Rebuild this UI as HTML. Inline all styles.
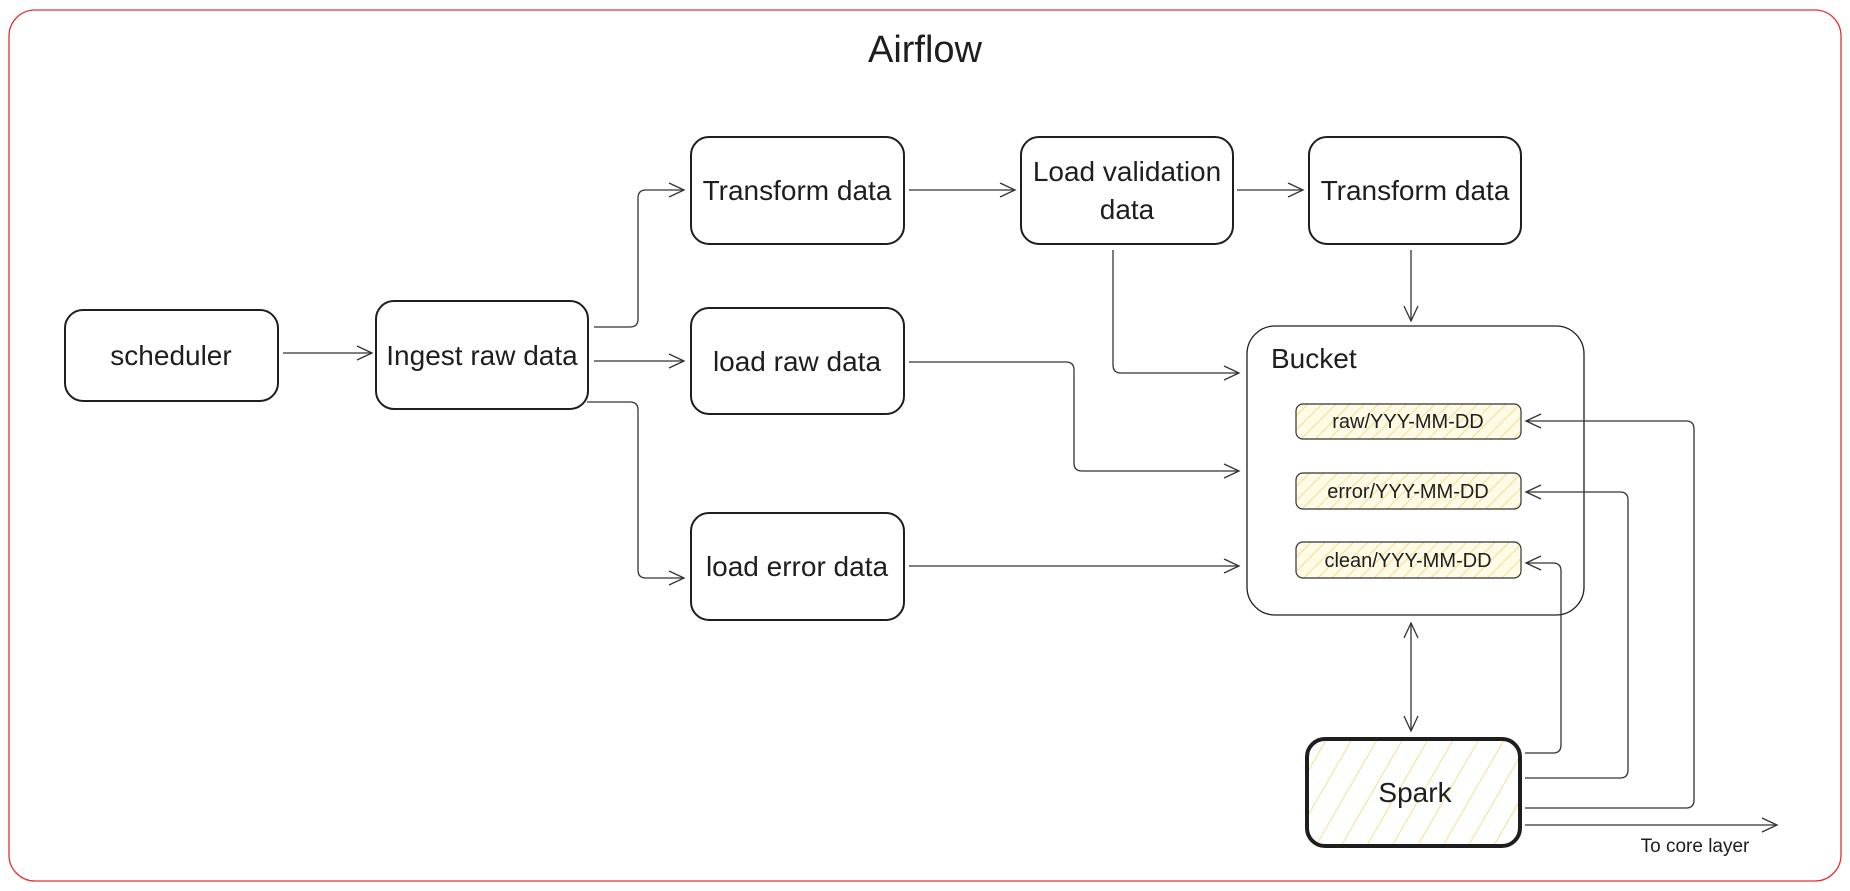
<!DOCTYPE html>
<html><head><meta charset="utf-8"><style>
body{margin:0;background:#fff;}
svg{display:block;font-family:"Liberation Sans",sans-serif;}
</style></head><body>
<svg width="1850" height="891" viewBox="0 0 1850 891" xmlns="http://www.w3.org/2000/svg">
<defs>
<pattern id="h" width="10" height="10" patternUnits="userSpaceOnUse" patternTransform="rotate(45)">
<rect width="10" height="10" fill="#fffbe6"/><line x1="0" y1="0" x2="0" y2="10" stroke="#f5dc8a" stroke-width="2"/></pattern>
<pattern id="h2" width="22" height="22" patternUnits="userSpaceOnUse" patternTransform="rotate(30)">
<rect width="22" height="22" fill="#fff"/><line x1="0" y1="0" x2="0" y2="22" stroke="#f5e08c" stroke-width="2"/></pattern>
<marker id="a" markerWidth="20" markerHeight="20" refX="17" refY="8" orient="auto" markerUnits="userSpaceOnUse">
<path d="M2,1 L17,8 L2,15" fill="none" stroke="#333" stroke-width="1.3"/></marker>
<marker id="b" markerWidth="20" markerHeight="20" refX="17" refY="8" orient="auto-start-reverse" markerUnits="userSpaceOnUse">
<path d="M2,1 L17,8 L2,15" fill="none" stroke="#333" stroke-width="1.3"/></marker>
</defs>
<rect x="9" y="10" width="1832" height="871" rx="26" fill="#fff" stroke="#e03131" stroke-width="1.3"/>
<text x="925" y="62" font-size="38" fill="#1e1e1e" text-anchor="middle">Airflow</text>
<g fill="#fff" stroke="#1e1e1e" stroke-width="2">
<rect x="65" y="310" width="213" height="91" rx="18"/>
<rect x="376" y="301" width="212" height="108" rx="18"/>
<rect x="691" y="137" width="213" height="107" rx="18"/>
<rect x="691" y="308" width="213" height="106" rx="18"/>
<rect x="691" y="513" width="213" height="107" rx="18"/>
<rect x="1021" y="137" width="212" height="107" rx="18"/>
<rect x="1309" y="137" width="212" height="107" rx="18"/>
</g>
<rect x="1247" y="326" width="337" height="289" rx="28" fill="#fff" stroke="#1e1e1e" stroke-width="1.3"/>
<g fill="url(#h)" stroke="#333" stroke-width="1.2">
<rect x="1296" y="404" width="225" height="35" rx="7"/>
<rect x="1296" y="473" width="225" height="36" rx="7"/>
<rect x="1296" y="542" width="225" height="36" rx="7"/>
</g>
<rect x="1307" y="739" width="213" height="107" rx="18" fill="url(#h2)" stroke="#1e1e1e" stroke-width="4"/>
<g font-size="28" fill="#1e1e1e" text-anchor="middle">
<text x="171" y="365">scheduler</text>
<text x="482" y="365">Ingest raw data</text>
<text x="797" y="200">Transform data</text>
<text x="797" y="371">load raw data</text>
<text x="797" y="576">load error data</text>
<text x="1127" y="181">Load validation</text>
<text x="1127" y="219">data</text>
<text x="1415" y="200">Transform data</text>
<text x="1415" y="802">Spark</text>
<text x="1271" y="368" text-anchor="start">Bucket</text>
</g>
<g font-size="20" fill="#1e1e1e" text-anchor="middle">
<text x="1408" y="428">raw/YYY-MM-DD</text>
<text x="1408" y="498">error/YYY-MM-DD</text>
<text x="1408" y="567">clean/YYY-MM-DD</text>
<text x="1695" y="852" font-size="19">To core layer</text>
</g>
<g fill="none" stroke="#333" stroke-width="1.3" marker-end="url(#a)">
<path d="M283,353 L372,353"/>
<path d="M594,361 L684,361"/>
<path d="M594,327 L630,327 Q638,327 638,319 L638,198 Q638,190 646,190 L684,190"/>
<path d="M587,402 L630,402 Q638,402 638,410 L638,570 Q638,578 646,578 L684,578"/>
<path d="M909,190 L1015,190"/>
<path d="M1237,190 L1303,190"/>
<path d="M1411,250 L1411,321"/>
<path d="M1113,250 L1113,365 Q1113,373 1121,373 L1239,373"/>
<path d="M909,362 L1066,362 Q1074,362 1074,370 L1074,463 Q1074,471 1082,471 L1239,471"/>
<path d="M909,566 L1239,566"/>
<path d="M1525,753 L1553,753 Q1561,753 1561,745 L1561,571 Q1561,563 1553,563 L1526,563"/>
<path d="M1525,778 L1620,778 Q1628,778 1628,770 L1628,500 Q1628,492 1620,492 L1526,492"/>
<path d="M1525,808 L1686,808 Q1694,808 1694,800 L1694,429 Q1694,421 1686,421 L1526,421"/>
<path d="M1525,825 L1777,825"/>
<path d="M1411,623 L1411,731" marker-start="url(#b)"/>
</g>
</svg>
</body></html>
